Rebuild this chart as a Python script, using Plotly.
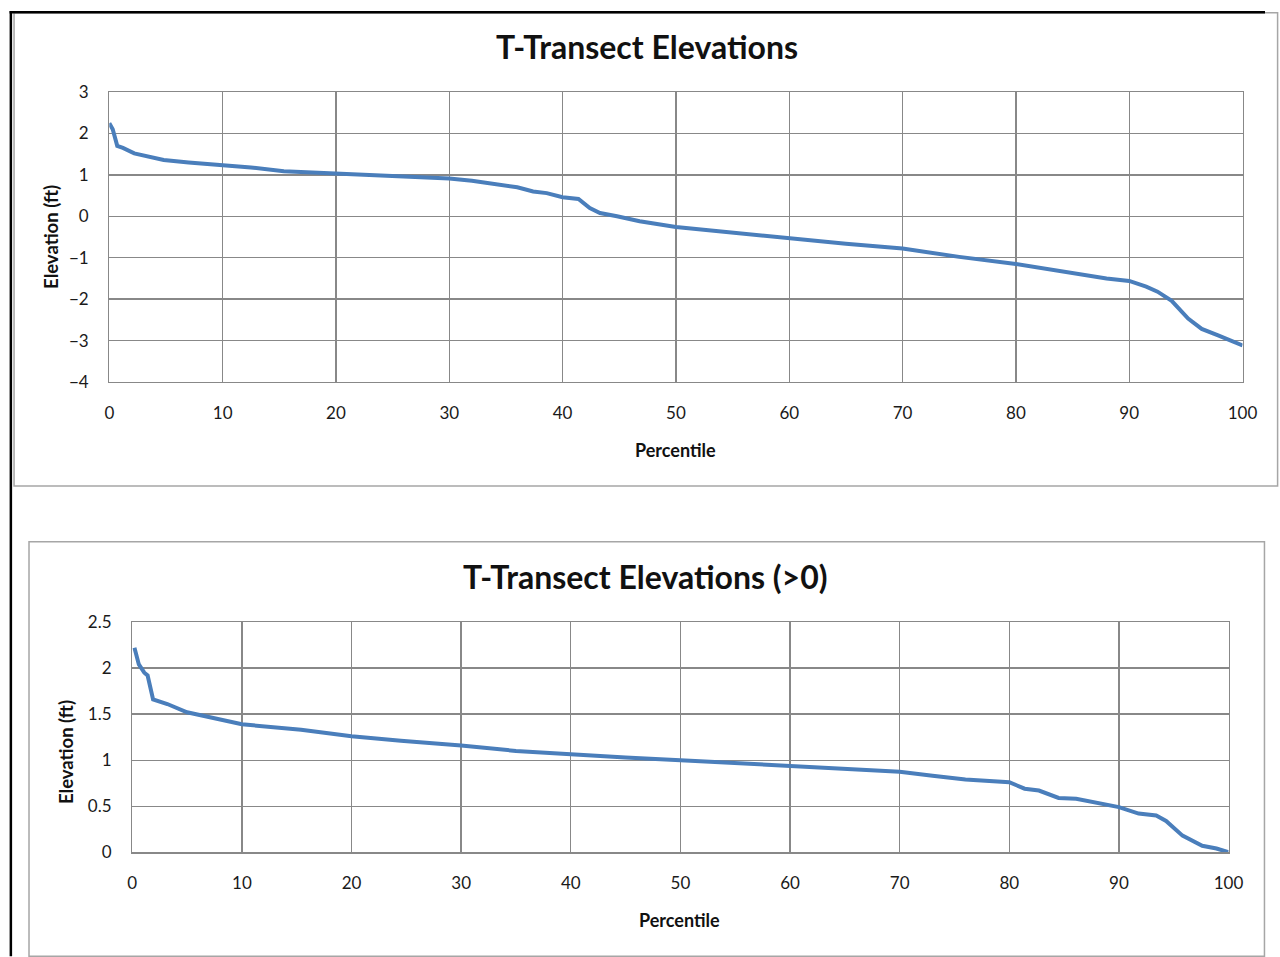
import plotly.graph_objects as go

W, H = 1280, 957
# measured mapping of the rendered page onto the returned picture
SX, BX = 0.9868, 3.43
SY, BY = 0.9817, 8.65

# ---------------- data ----------------
top_pct = [0, 0.3, 0.7, 1.2, 2.2, 3.5, 4.8, 7, 10, 12.5, 15.4, 18, 20, 22.5, 25.7, 28, 30, 32,
           34.5, 36, 37.4, 38.6, 40, 41.4, 42.4, 43.3, 44.8, 46.8, 50, 55, 60, 65, 70, 75, 80,
           85, 88, 90, 91.5, 92.5, 93.75, 95.2, 96.4, 97.9, 100]
top_elev = [2.25, 2.1, 1.7, 1.65, 1.52, 1.45, 1.36, 1.3, 1.24, 1.18, 1.09, 1.06, 1.03, 0.99, 0.95,
            0.93, 0.91, 0.86, 0.77, 0.70, 0.60, 0.56, 0.46, 0.42, 0.2, 0.08, 0.0, -0.12, -0.26,
            -0.4, -0.54, -0.66, -0.78, -0.98, -1.15, -1.37, -1.5, -1.56, -1.7, -1.82, -2.04,
            -2.47, -2.72, -2.88, -3.12]

bot_pct = [0.2, 0.6, 1.1, 1.4, 1.9, 3.2, 5, 7.5, 10, 15.4, 20, 24.5, 30, 35, 40, 45, 50, 55, 60,
           65, 70, 73, 76, 80, 81.4, 82.7, 84.5, 86.1, 88.2, 90, 91.8, 93.4, 94.3, 95.8, 97.6,
           98.9, 100]
bot_elev = [2.22, 2.04, 1.95, 1.92, 1.66, 1.61, 1.52, 1.46, 1.39, 1.33, 1.26, 1.21, 1.16, 1.1,
            1.06, 1.03, 1.0, 0.97, 0.93, 0.9, 0.875, 0.83, 0.79, 0.76, 0.69, 0.67, 0.59, 0.58,
            0.53, 0.49, 0.42, 0.40, 0.34, 0.18, 0.07, 0.04, 0.0]

top_title = "T-Transect Elevations"
bot_title = "T-Transect Elevations (>0)"
x_title = "Percentile"
y_title = "Elevation (ft)"

# ---------------- helpers (reference pixel -> paper) ----------------
def px(x):
    p = (x - BX) / SX
    return min(max(p, 0), W) / W

def py(y):
    p = (y - BY) / SY
    return 1 - min(max(p, 0), H) / H

FONT = "Lato, 'Open Sans', sans-serif"
LINE_COLOR = "#4a7ebb"
GRID = "#888888"

fig = go.Figure()
fig.add_trace(go.Scatter(x=top_pct, y=top_elev, mode="lines",
                         line=dict(color=LINE_COLOR, width=4), xaxis="x", yaxis="y",
                         showlegend=False, hoverinfo="skip"))
fig.add_trace(go.Scatter(x=bot_pct, y=bot_elev, mode="lines",
                         line=dict(color=LINE_COLOR, width=4), xaxis="x2", yaxis="y2",
                         showlegend=False, hoverinfo="skip"))

tickfont = dict(family=FONT, size=17, color="#1a1a1a")
common_x = dict(range=[0, 100], dtick=10, tick0=0, showgrid=True, gridcolor=GRID, gridwidth=1.3,
                showline=True, linecolor=GRID, linewidth=1.3, mirror=True, zeroline=False,
                ticks="outside", ticklen=15, tickcolor="rgba(0,0,0,0)", tickfont=tickfont,
                fixedrange=True)
common_y = dict(showgrid=True, gridcolor=GRID, gridwidth=1.3,
                showline=True, linecolor=GRID, linewidth=1.3, mirror=True, zeroline=False,
                ticks="outside", ticklen=16, tickcolor="rgba(0,0,0,0)", tickfont=tickfont,
                fixedrange=True)

fig.update_layout(
    width=W, height=H, margin=dict(l=0, r=0, t=0, b=0),
    paper_bgcolor="white", plot_bgcolor="white",
    xaxis=dict(domain=[px(108), px(1244)], anchor="y", **common_x),
    yaxis=dict(domain=[py(381), py(90)], anchor="x", range=[-4, 3], dtick=1, **common_y),
    xaxis2=dict(domain=[px(131), px(1230)], anchor="y2", **common_x),
    yaxis2=dict(domain=[py(853), py(622)], anchor="x2", range=[0, 2.5], dtick=0.5,
                tickformat="~g", **common_y),
)

shapes = [
    # chart boxes
    dict(type="rect", xref="paper", yref="paper", x0=px(12.5), x1=1.01, y0=py(485.5), y1=py(10.5),
         line=dict(color="#a6a6a6", width=1.5)),
    dict(type="rect", xref="paper", yref="paper", x0=px(27.5), x1=px(1266), y0=-0.01, y1=py(541.5),
         line=dict(color="#a6a6a6", width=1.5)),
    # outer black frame edges
    dict(type="line", xref="paper", yref="paper", x0=px(8), x1=1.0, y0=1 - 1.2 / H, y1=1 - 1.2 / H,
         line=dict(color="black", width=2.5)),
    dict(type="line", xref="paper", yref="paper", x0=px(9.3), x1=px(9.3), y0=-0.01, y1=1,
         line=dict(color="black", width=2.5)),
]
fig.update_layout(shapes=shapes)

def note(text, x, y, size, angle=0):
    return dict(text=f"<b>{text}</b>", x=px(x), y=py(y), xref="paper", yref="paper",
                showarrow=False, textangle=angle, font=dict(family=FONT, size=size, color="#111"),
                xanchor="center", yanchor="middle")

ann = [
    note(top_title, 647, 44, 32),
    note(bot_title, 646, 576, 32),
    note(x_title, 676, 449, 18),
    note(x_title, 680, 921, 18),
    note(y_title, 49, 235, 18.5, -90),
    note(y_title, 64, 752, 18.5, -90),
]
fig.update_layout(annotations=ann)

fig.write_html("out.html", config={"displayModeBar": False, "staticPlot": True},
               post_script="document.body.style.margin='0';document.body.style.overflow='hidden';")
